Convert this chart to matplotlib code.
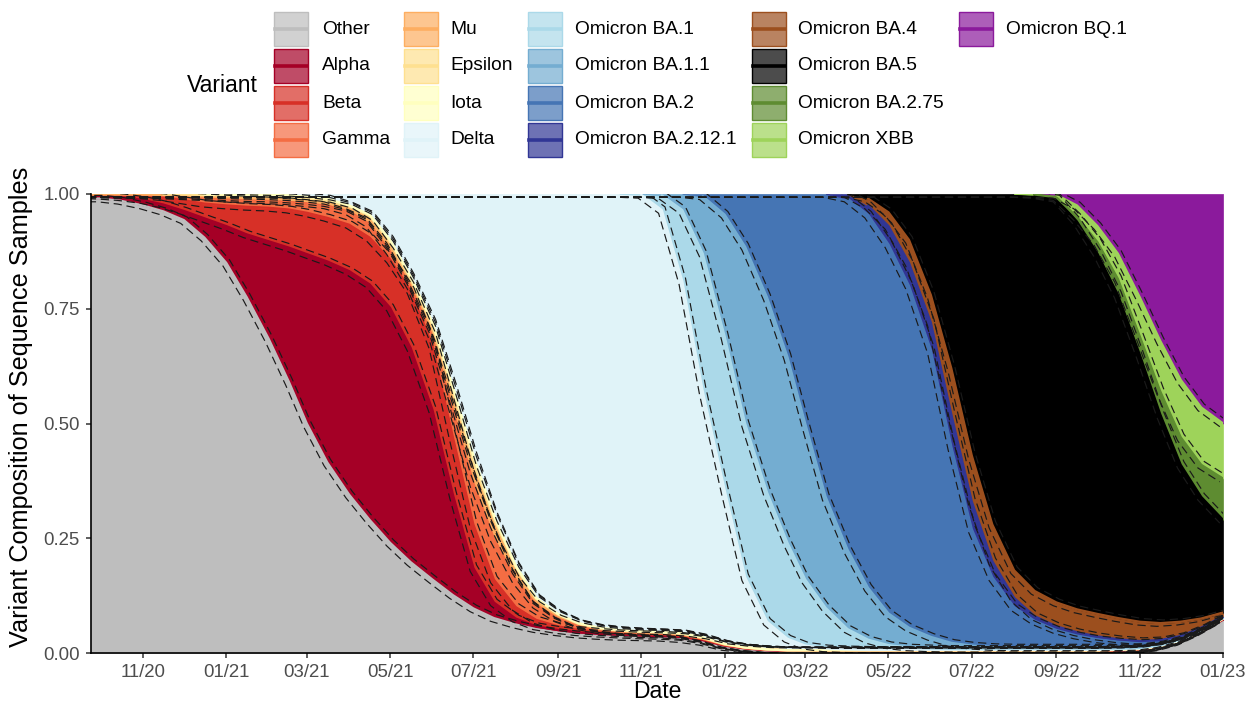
import numpy as np
import pandas as pd
import matplotlib
matplotlib.use("Agg")
import matplotlib.pyplot as plt
import matplotlib.dates as mdates
import matplotlib.transforms as mtransforms
from matplotlib.patches import Rectangle
from matplotlib.lines import Line2D
from matplotlib.colors import to_rgba

plt.rcParams['font.family'] = ['Liberation Sans', 'DejaVu Sans']

# ---------------- data ----------------
date_labels = [
    "2020-09-24",
    "2020-10-01", "2020-10-16", "2020-11-01", "2020-11-16", "2020-12-01", "2020-12-16",
    "2021-01-01", "2021-01-16", "2021-02-01", "2021-02-16", "2021-03-01", "2021-03-16",
    "2021-04-01", "2021-04-16", "2021-05-01", "2021-05-16", "2021-06-01", "2021-06-16",
    "2021-07-01", "2021-07-16", "2021-08-01", "2021-08-16", "2021-09-01", "2021-09-16",
    "2021-10-01", "2021-10-16", "2021-11-01", "2021-11-16", "2021-12-01", "2021-12-16",
    "2022-01-01", "2022-01-16", "2022-02-01", "2022-02-16", "2022-03-01", "2022-03-16",
    "2022-04-01", "2022-04-16", "2022-05-01", "2022-05-16", "2022-06-01", "2022-06-16",
    "2022-07-01", "2022-07-16", "2022-08-01", "2022-08-16", "2022-09-01", "2022-09-16",
    "2022-10-01", "2022-10-16", "2022-11-01", "2022-11-16", "2022-12-01", "2022-12-16",
    "2023-01-01",
]

variants = ["Other", "Alpha", "Beta", "Gamma", "Mu", "Epsilon", "Iota", "Delta",
            "Omicron BA.1", "Omicron BA.1.1", "Omicron BA.2", "Omicron BA.2.12.1",
            "Omicron BA.4", "Omicron BA.5", "Omicron BA.2.75", "Omicron XBB",
            "Omicron BQ.1"]

variant_colors = ["#BEBEBE", "#A50026", "#D73027", "#F46D43", "#FDAE61", "#FEE090",
                  "#FFFFBF", "#E0F3F8", "#ABD9E9", "#74ADD1", "#4575B4", "#313695",
                  "#9C4F1E", "#000000", "#5E8C31", "#9ED35A", "#8B1A9C"]

# cumulative composition: upper edge of each variant's band (stacked bottom -> top)
other_top = [0.990, 0.990, 0.985, 0.975, 0.962, 0.943, 0.905, 0.850, 0.775, 0.685,
             0.590, 0.500, 0.415, 0.345, 0.290, 0.240, 0.198, 0.160, 0.126, 0.097,
             0.076, 0.062, 0.052, 0.045, 0.040, 0.037, 0.035, 0.034, 0.033, 0.030,
             0.024, 0.013, 0.008, 0.005, 0.004, 0.004, 0.003, 0.003, 0.003, 0.003,
             0.003, 0.003, 0.003, 0.003, 0.003, 0.003, 0.003, 0.003, 0.003, 0.003,
             0.004, 0.006, 0.012, 0.024, 0.045, 0.072]
alpha_top = [0.997, 0.996, 0.993, 0.987, 0.977, 0.963, 0.947, 0.930, 0.912, 0.897,
             0.883, 0.869, 0.853, 0.832, 0.803, 0.752, 0.665, 0.530, 0.345, 0.185,
             0.110, 0.075, 0.058, 0.050, 0.045, 0.042, 0.040, 0.038, 0.037, 0.035,
             0.028, 0.016, 0.010, 0.006, 0.005, 0.005, 0.005, 0.005, 0.004, 0.004,
             0.004, 0.004, 0.004, 0.004, 0.004, 0.004, 0.004, 0.004, 0.004, 0.004,
             0.005, 0.007, 0.013, 0.025, 0.046, 0.073]
beta_top = [0.999, 0.999, 0.998, 0.997, 0.993, 0.986, 0.979, 0.975, 0.972, 0.970,
            0.966, 0.959, 0.948, 0.933, 0.905, 0.857, 0.790, 0.670, 0.470, 0.280,
            0.160, 0.100, 0.072, 0.058, 0.050, 0.046, 0.043, 0.041, 0.040, 0.037,
            0.030, 0.017, 0.011, 0.007, 0.006, 0.005, 0.005, 0.005, 0.005, 0.005,
            0.005, 0.005, 0.005, 0.005, 0.005, 0.005, 0.005, 0.005, 0.005, 0.005,
            0.006, 0.008, 0.014, 0.026, 0.047, 0.074]
gamma_top = [0.999, 0.999, 0.999, 0.998, 0.997, 0.995, 0.993, 0.990, 0.988, 0.986,
             0.984, 0.980, 0.975, 0.962, 0.935, 0.875, 0.800, 0.690, 0.530, 0.370,
             0.250, 0.160, 0.105, 0.075, 0.059, 0.050, 0.046, 0.043, 0.042, 0.039,
             0.031, 0.018, 0.011, 0.007, 0.006, 0.005, 0.005, 0.005, 0.005, 0.005,
             0.005, 0.005, 0.005, 0.005, 0.005, 0.005, 0.005, 0.005, 0.005, 0.005,
             0.006, 0.008, 0.014, 0.026, 0.047, 0.074]
mu_top = [0.9993, 0.9993, 0.9993, 0.999, 0.998, 0.997, 0.995, 0.993, 0.991, 0.990,
          0.988, 0.985, 0.980, 0.970, 0.948, 0.890, 0.810, 0.705, 0.555, 0.400,
          0.280, 0.180, 0.115, 0.082, 0.063, 0.053, 0.048, 0.045, 0.044, 0.041,
          0.032, 0.019, 0.012, 0.008, 0.006, 0.006, 0.006, 0.006, 0.006, 0.006,
          0.006, 0.006, 0.006, 0.006, 0.006, 0.006, 0.006, 0.006, 0.006, 0.006,
          0.007, 0.009, 0.015, 0.027, 0.048, 0.075]
epsilon_top = [0.9996, 0.9996, 0.9996, 0.9995, 0.9993, 0.999, 0.998, 0.997, 0.996, 0.995,
               0.993, 0.990, 0.985, 0.973, 0.952, 0.895, 0.815, 0.713, 0.570, 0.420,
               0.295, 0.187, 0.118, 0.084, 0.064, 0.054, 0.049, 0.046, 0.045, 0.042,
               0.033, 0.019, 0.012, 0.008, 0.006, 0.006, 0.006, 0.006, 0.006, 0.006,
               0.006, 0.006, 0.006, 0.006, 0.006, 0.006, 0.006, 0.006, 0.006, 0.006,
               0.007, 0.009, 0.015, 0.027, 0.048, 0.075]
iota_top = [1.000, 1.000, 1.000, 1.000, 1.000, 0.9995, 0.999, 0.999, 0.998, 0.998,
            0.997, 0.994, 0.990, 0.975, 0.955, 0.900, 0.820, 0.720, 0.580, 0.430,
            0.300, 0.190, 0.120, 0.085, 0.065, 0.055, 0.050, 0.047, 0.045, 0.043,
            0.034, 0.020, 0.012, 0.008, 0.006, 0.006, 0.006, 0.006, 0.006, 0.006,
            0.006, 0.006, 0.006, 0.006, 0.006, 0.006, 0.006, 0.006, 0.006, 0.006,
            0.007, 0.009, 0.015, 0.027, 0.048, 0.075]
delta_top = [1.000, 1.000, 1.000, 1.000, 1.000, 1.000, 1.000, 1.000, 1.000, 1.000,
             1.000, 1.000, 1.000, 1.000, 1.000, 1.000, 1.000, 1.000, 1.000, 1.000,
             1.000, 1.000, 1.000, 1.000, 1.000, 1.000, 1.000, 0.998, 0.965, 0.810,
             0.570, 0.355, 0.165, 0.068, 0.031, 0.016, 0.010, 0.008, 0.007, 0.007,
             0.007, 0.007, 0.007, 0.007, 0.007, 0.007, 0.007, 0.007, 0.007, 0.007,
             0.008, 0.010, 0.016, 0.028, 0.049, 0.076]
ba1_top = [1.000, 1.000, 1.000, 1.000, 1.000, 1.000, 1.000, 1.000, 1.000, 1.000,
           1.000, 1.000, 1.000, 1.000, 1.000, 1.000, 1.000, 1.000, 1.000, 1.000,
           1.000, 1.000, 1.000, 1.000, 1.000, 1.000, 1.000, 1.000, 0.997, 0.965,
           0.870, 0.690, 0.500, 0.350, 0.240, 0.160, 0.098, 0.052, 0.029, 0.017,
           0.012, 0.010, 0.009, 0.009, 0.009, 0.009, 0.009, 0.009, 0.009, 0.009,
           0.009, 0.011, 0.017, 0.029, 0.050, 0.077]
ba11_top = [1.000, 1.000, 1.000, 1.000, 1.000, 1.000, 1.000, 1.000, 1.000, 1.000,
            1.000, 1.000, 1.000, 1.000, 1.000, 1.000, 1.000, 1.000, 1.000, 1.000,
            1.000, 1.000, 1.000, 1.000, 1.000, 1.000, 1.000, 1.000, 1.000, 1.000,
            0.995, 0.955, 0.885, 0.775, 0.645, 0.500, 0.340, 0.225, 0.142, 0.086,
            0.055, 0.035, 0.022, 0.016, 0.013, 0.012, 0.012, 0.012, 0.012, 0.012,
            0.012, 0.013, 0.019, 0.031, 0.051, 0.078]
ba2_top = [1.000, 1.000, 1.000, 1.000, 1.000, 1.000, 1.000, 1.000, 1.000, 1.000,
           1.000, 1.000, 1.000, 1.000, 1.000, 1.000, 1.000, 1.000, 1.000, 1.000,
           1.000, 1.000, 1.000, 1.000, 1.000, 1.000, 1.000, 1.000, 1.000, 1.000,
           1.000, 1.000, 1.000, 1.000, 1.000, 1.000, 1.000, 0.990, 0.955, 0.890,
           0.800, 0.660, 0.450, 0.270, 0.165, 0.100, 0.070, 0.050, 0.038, 0.030,
           0.025, 0.022, 0.025, 0.035, 0.053, 0.079]
ba2121_top = [1.000, 1.000, 1.000, 1.000, 1.000, 1.000, 1.000, 1.000, 1.000, 1.000,
              1.000, 1.000, 1.000, 1.000, 1.000, 1.000, 1.000, 1.000, 1.000, 1.000,
              1.000, 1.000, 1.000, 1.000, 1.000, 1.000, 1.000, 1.000, 1.000, 1.000,
              1.000, 1.000, 1.000, 1.000, 1.000, 1.000, 1.000, 1.000, 0.975, 0.930,
              0.850, 0.720, 0.520, 0.330, 0.200, 0.120, 0.080, 0.058, 0.045, 0.036,
              0.030, 0.026, 0.028, 0.037, 0.055, 0.080]
ba4_top = [1.000, 1.000, 1.000, 1.000, 1.000, 1.000, 1.000, 1.000, 1.000, 1.000,
           1.000, 1.000, 1.000, 1.000, 1.000, 1.000, 1.000, 1.000, 1.000, 1.000,
           1.000, 1.000, 1.000, 1.000, 1.000, 1.000, 1.000, 1.000, 1.000, 1.000,
           1.000, 1.000, 1.000, 1.000, 1.000, 1.000, 1.000, 1.000, 0.990, 0.960,
           0.900, 0.780, 0.620, 0.430, 0.280, 0.180, 0.135, 0.110, 0.095, 0.085,
           0.076, 0.068, 0.065, 0.068, 0.075, 0.088]
ba5_top = [1.000, 1.000, 1.000, 1.000, 1.000, 1.000, 1.000, 1.000, 1.000, 1.000,
           1.000, 1.000, 1.000, 1.000, 1.000, 1.000, 1.000, 1.000, 1.000, 1.000,
           1.000, 1.000, 1.000, 1.000, 1.000, 1.000, 1.000, 1.000, 1.000, 1.000,
           1.000, 1.000, 1.000, 1.000, 1.000, 1.000, 1.000, 1.000, 1.000, 1.000,
           1.000, 1.000, 1.000, 1.000, 1.000, 1.000, 0.998, 0.990, 0.940, 0.870,
           0.780, 0.650, 0.520, 0.410, 0.340, 0.290]
ba275_top = [1.000, 1.000, 1.000, 1.000, 1.000, 1.000, 1.000, 1.000, 1.000, 1.000,
             1.000, 1.000, 1.000, 1.000, 1.000, 1.000, 1.000, 1.000, 1.000, 1.000,
             1.000, 1.000, 1.000, 1.000, 1.000, 1.000, 1.000, 1.000, 1.000, 1.000,
             1.000, 1.000, 1.000, 1.000, 1.000, 1.000, 1.000, 1.000, 1.000, 1.000,
             1.000, 1.000, 1.000, 1.000, 1.000, 1.000, 0.999, 0.993, 0.950, 0.895,
             0.815, 0.690, 0.570, 0.470, 0.410, 0.380]
xbb_top = [1.000, 1.000, 1.000, 1.000, 1.000, 1.000, 1.000, 1.000, 1.000, 1.000,
           1.000, 1.000, 1.000, 1.000, 1.000, 1.000, 1.000, 1.000, 1.000, 1.000,
           1.000, 1.000, 1.000, 1.000, 1.000, 1.000, 1.000, 1.000, 1.000, 1.000,
           1.000, 1.000, 1.000, 1.000, 1.000, 1.000, 1.000, 1.000, 1.000, 1.000,
           1.000, 1.000, 1.000, 1.000, 1.000, 1.000, 1.000, 0.998, 0.975, 0.930,
           0.870, 0.775, 0.680, 0.595, 0.535, 0.500]
bq1_top = [1.000, 1.000, 1.000, 1.000, 1.000, 1.000, 1.000, 1.000, 1.000, 1.000,
           1.000, 1.000, 1.000, 1.000, 1.000, 1.000, 1.000, 1.000, 1.000, 1.000,
           1.000, 1.000, 1.000, 1.000, 1.000, 1.000, 1.000, 1.000, 1.000, 1.000,
           1.000, 1.000, 1.000, 1.000, 1.000, 1.000, 1.000, 1.000, 1.000, 1.000,
           1.000, 1.000, 1.000, 1.000, 1.000, 1.000, 1.000, 1.000, 1.000, 1.000,
           1.000, 1.000, 1.000, 1.000, 1.000, 1.000]

ytick_values = [0.00, 0.25, 0.50, 0.75, 1.00]
ytick_labels = ["0.00", "0.25", "0.50", "0.75", "1.00"]

tops = [other_top, alpha_top, beta_top, gamma_top, mu_top, epsilon_top, iota_top,
        delta_top, ba1_top, ba11_top, ba2_top, ba2121_top, ba4_top, ba5_top,
        ba275_top, xbb_top, bq1_top]
for t in tops:
    assert len(t) == len(date_labels), len(t)

# ---------------- figure ----------------
W, H = 1245, 706
fig = plt.figure(figsize=(W / 100, H / 100), dpi=100)
L, R, T, B = 91, 1223, 194, 653
ax = fig.add_axes([L / W, 1 - B / H, (R - L) / W, (B - T) / H])

x = mdates.date2num(pd.to_datetime(date_labels))

lower = np.zeros(len(x))
arrs = []
for name, col, top in zip(variants, variant_colors, tops):
    top = np.maximum(np.asarray(top, dtype=float), lower)
    present = (top - lower) > 1e-6
    present = present | np.r_[present[1:], False] | np.r_[False, present[:-1]]
    if present.any():
        ax.fill_between(x, lower, top, where=present, facecolor=col, edgecolor=col,
                        linewidth=0.5, zorder=1)
    arrs.append(top)
    lower = top

# fitted lines (variant colour) with dashed interval lines
up = mtransforms.offset_copy(ax.transData, fig=fig, x=3.2, y=3.2, units='dots')
dn = mtransforms.offset_copy(ax.transData, fig=fig, x=-3.2, y=-3.2, units='dots')
for name, col, top in zip(variants[:-1], variant_colors[:-1], arrs[:-1]):
    solid = np.where(top >= 0.9995, np.nan, top)
    ax.plot(x, solid, color=col, lw=1.7, zorder=3, solid_capstyle='round')
for top in arrs[:-1]:
    for tr in (up, dn):
        ax.plot(x, top, transform=tr, color='#1a1a1a', lw=0.85,
                dashes=(7, 4), zorder=4)

ax.set_xlim(x[0], x[-1])
ax.set_ylim(0, 1)
for s in ('top', 'right'):
    ax.spines[s].set_visible(False)
for s in ('left', 'bottom'):
    ax.spines[s].set_linewidth(1.2)
    ax.spines[s].set_color('black')
    ax.spines[s].set_zorder(6)

ax.set_yticks(ytick_values)
ax.set_yticklabels(ytick_labels)
ax.xaxis.set_major_locator(mdates.MonthLocator(bymonth=[1, 3, 5, 7, 9, 11]))
ax.xaxis.set_major_formatter(mdates.DateFormatter('%m/%y'))
ax.tick_params(axis='both', length=3.5, width=1.1, color='#333333',
               labelcolor='#4D4D4D', labelsize=13.4, pad=4.5)

fig.text(657 / W, 1 - 692 / H, "Date", ha='center', va='center', fontsize=16.5)
fig.text(21 / W, 1 - 407 / H, "Variant Composition of Sequence Samples",
         rotation=90, ha='center', va='center', fontsize=18.2)

# ---------------- legend (manual) ----------------
fig.text(187 / W, 1 - 85 / H, "Variant", ha='left', va='center', fontsize=16.6)
key_x = [274, 404, 528, 752, 959]
lab_x = [322, 450, 575, 798, 1006]
row_top = [12, 49, 86, 123]
ks = 34
for i, (name, col) in enumerate(zip(variants, variant_colors)):
    c, r = divmod(i, 4)
    kx, ky = key_x[c], row_top[r]
    rect = Rectangle((kx / W, 1 - (ky + ks) / H), ks / W, ks / H,
                     transform=fig.transFigure, facecolor=to_rgba(col, 0.7),
                     edgecolor=col, linewidth=1.0)
    fig.patches.append(rect)
    cy = 1 - (ky + ks / 2) / H
    fig.lines.append(Line2D([(kx + 1) / W, (kx + ks - 1) / W], [cy, cy],
                            transform=fig.transFigure, color=col, lw=2.6))
    fig.text(lab_x[c] / W, cy, name, ha='left', va='center', fontsize=13.8)

fig.savefig("out.png", dpi=100)
